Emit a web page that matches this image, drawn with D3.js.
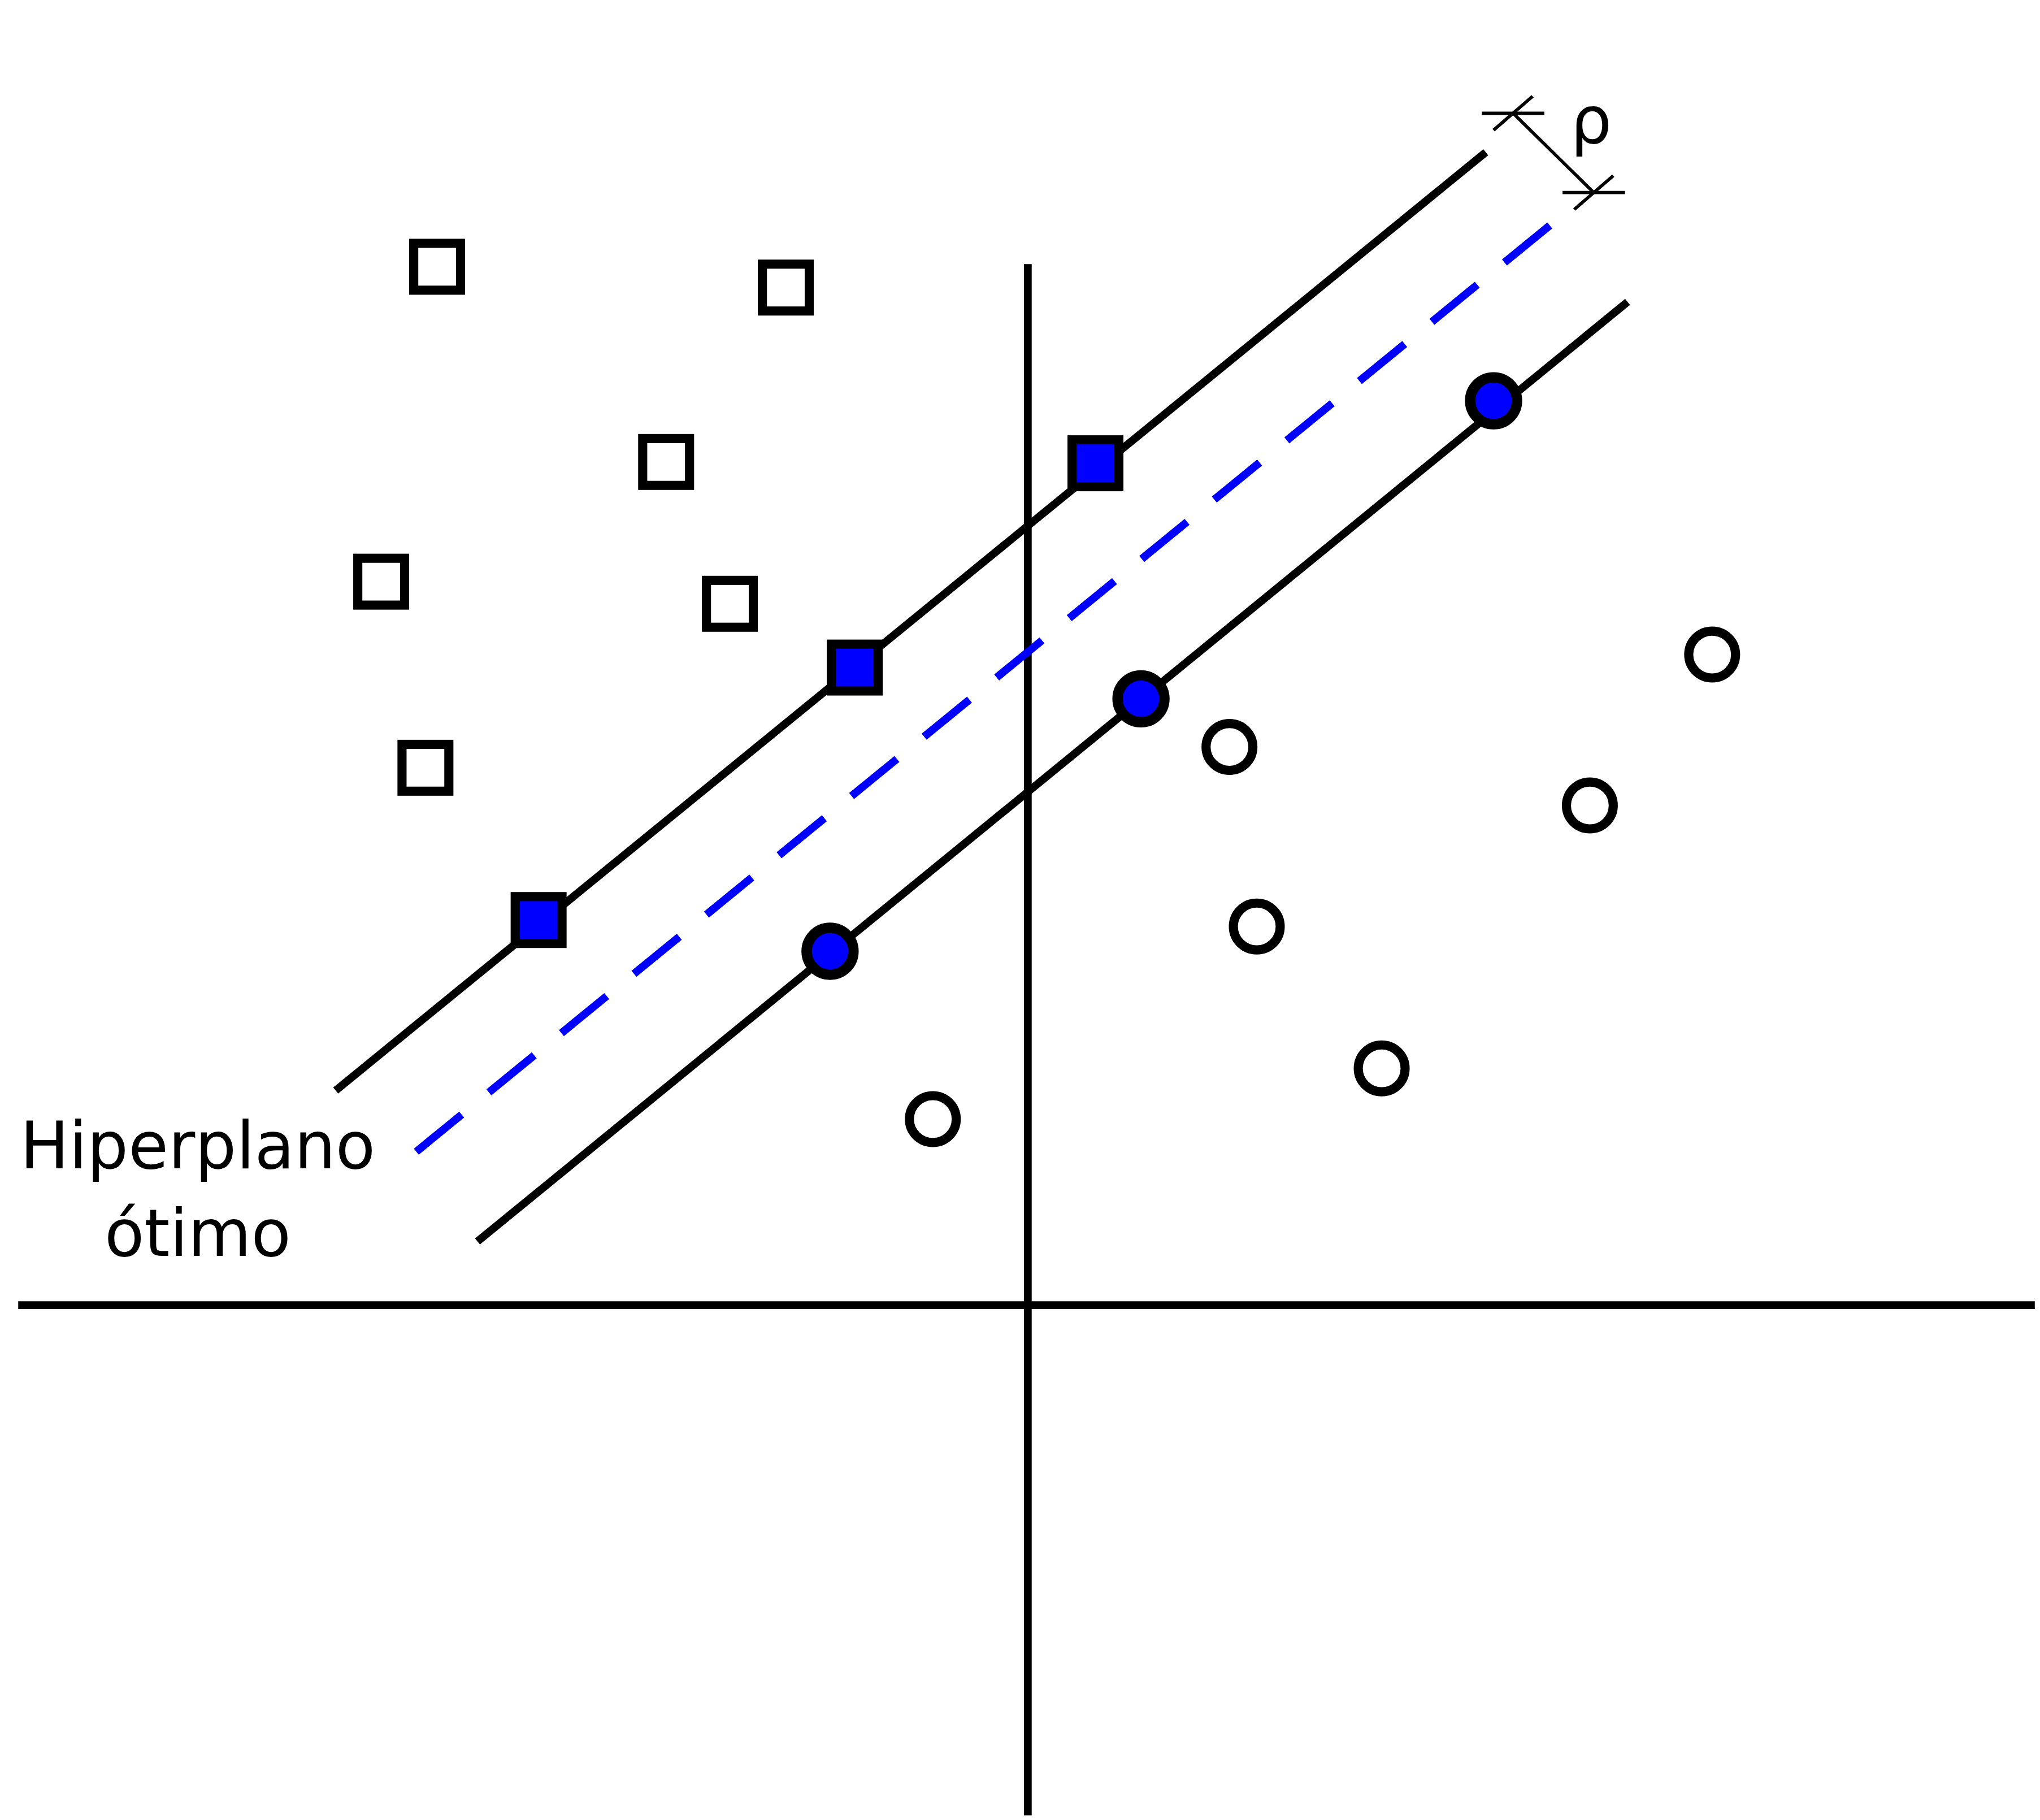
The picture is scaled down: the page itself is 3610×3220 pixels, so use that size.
<!DOCTYPE html>
<html><head><meta charset="utf-8">
<script src="https://cdn.jsdelivr.net/npm/d3@7"></script>
<style>body{margin:0;background:#fff}</style>
</head><body>
<svg id="c" width="3610" height="3220"></svg>
<script>
// coordinates relative to the axes origin (x right, y up)
var openSquares = [[-454,798],[-186,782],[-278,648],[-497,556],[-229,539],[-463,413]];
var supportSquares = [[-376,296],[-133,490],[52,647]];
var openCircles = [[155,429],[526,500],[432,384],[176,291],[272,182],[-73,143]];
var supportCircles = [[-152,272],[87,466],[358,695]];
var upperMargin = [[-532,165],[352,886]];
var lowerMargin = [[-423,49],[461,771]];
var hyperplane = [[-470,118],[415,841]];
var rhoEnds = [[373,916],[435,855]];
var labelLines = ["Hiperplano", "ótimo"];

var k = 3610/1568;
var x = d3.scaleLinear().domain([-790, 778]).range([0, 3610]);
var y = d3.scaleLinear().domain([1003, -397]).range([0, 1400*k]);
var svg = d3.select("#c");
var line = d3.line().x(function(d){return x(d[0]);}).y(function(d){return y(d[1]);});

// axes
svg.append("path").attr("d", line([[-776,0],[774,0]])).attr("stroke","#000").attr("stroke-width",6*k);
svg.append("path").attr("d", line([[0,800],[0,-392]])).attr("stroke","#000").attr("stroke-width",6*k);

svg.append("path").attr("d", line(upperMargin)).attr("stroke","#000").attr("stroke-width",6*k);
svg.append("path").attr("d", line(lowerMargin)).attr("stroke","#000").attr("stroke-width",6*k);
svg.append("path").attr("d", line(hyperplane)).attr("stroke","#00f").attr("stroke-width",6*k)
  .attr("stroke-dasharray", (45*k)+","+(27*k));

// rho marker
svg.append("path").attr("d", line(rhoEnds)).attr("stroke","#000").attr("stroke-width",2.5*k);
rhoEnds.forEach(function(p){
  svg.append("path").attr("d", line([[p[0]-24,p[1]],[p[0]+24,p[1]]])).attr("stroke","#000").attr("stroke-width",2.5*k);
  svg.append("path").attr("d", line([[p[0]-15,p[1]-13],[p[0]+15,p[1]+13]])).attr("stroke","#000").attr("stroke-width",2.5*k);
});
svg.append("text").attr("x", x(433)).attr("y", y(893)).attr("font-family","DejaVu Sans")
  .attr("font-size", 50*k).attr("text-anchor","middle").text("ρ");

var sq = 36;
svg.selectAll(".os").data(openSquares).enter().append("rect")
  .attr("x", function(d){return x(d[0]-sq/2);}).attr("y", function(d){return y(d[1]+sq/2);})
  .attr("width", sq*k).attr("height", sq*k).attr("fill","#fff").attr("stroke","#000").attr("stroke-width",7*k);
svg.selectAll(".ss").data(supportSquares).enter().append("rect")
  .attr("x", function(d){return x(d[0]-sq/2);}).attr("y", function(d){return y(d[1]+sq/2);})
  .attr("width", sq*k).attr("height", sq*k).attr("fill","#00f").attr("stroke","#000").attr("stroke-width",7*k);
svg.selectAll(".oc").data(openCircles).enter().append("circle")
  .attr("cx", function(d){return x(d[0]);}).attr("cy", function(d){return y(d[1]);})
  .attr("r", 18*k).attr("fill","#fff").attr("stroke","#000").attr("stroke-width",7*k);
svg.selectAll(".sc").data(supportCircles).enter().append("circle")
  .attr("cx", function(d){return x(d[0]);}).attr("cy", function(d){return y(d[1]);})
  .attr("r", 18*k).attr("fill","#00f").attr("stroke","#000").attr("stroke-width",8*k);

svg.selectAll(".lb").data(labelLines).enter().append("text")
  .attr("x", x(-638)).attr("y", function(d,i){return y(105 - i*67);})
  .attr("font-family","DejaVu Sans").attr("font-size", 50*k).attr("text-anchor","middle")
  .text(function(d){return d;});
</script>
</body></html>
